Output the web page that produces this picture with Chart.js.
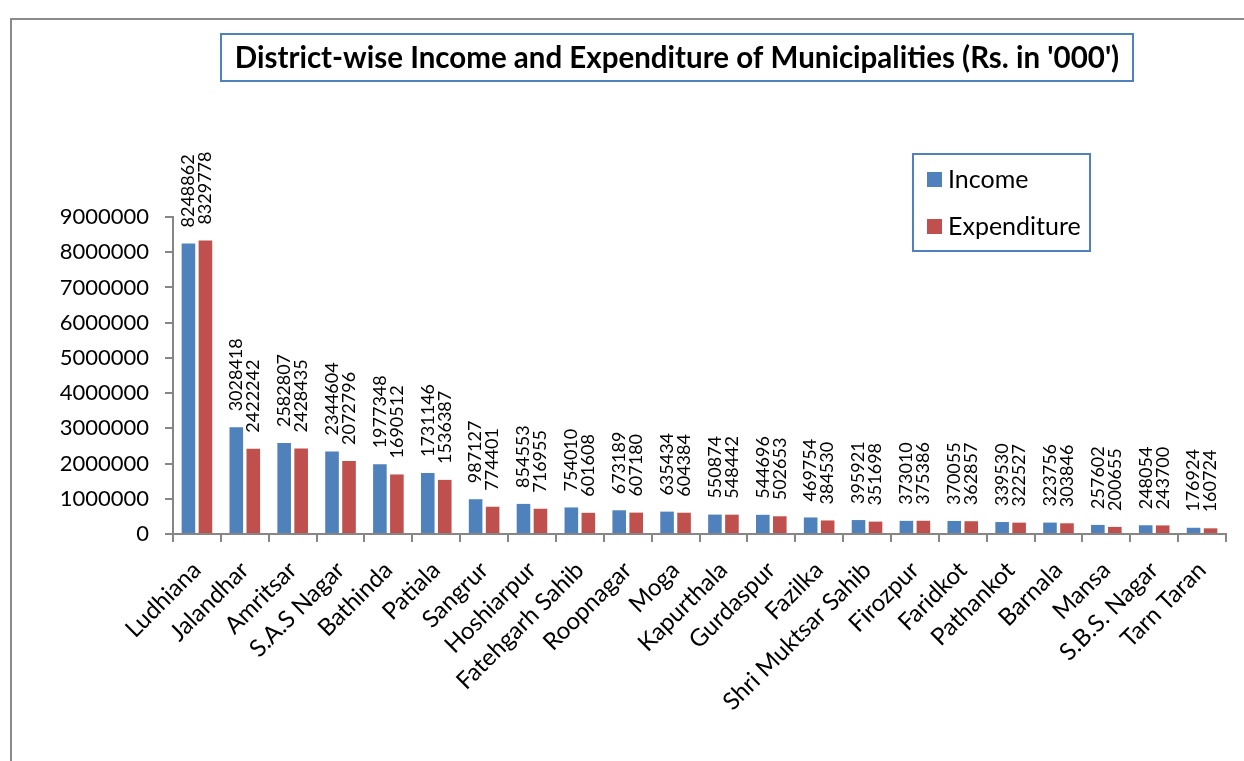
<!DOCTYPE html>
<html>
<head>
<meta charset="utf-8">
<script src="https://cdn.jsdelivr.net/npm/chart.js@4.4.0/dist/chart.umd.min.js"></script>
<style>
html,body{margin:0;padding:0;background:#fff;}
#wrap{width:1244px;height:761px;position:relative;}
</style>
</head>
<body>
<div id="wrap"><canvas id="c" width="1244" height="761"></canvas></div>
<script>
const chartTitle = "District-wise Income and Expenditure of Municipalities (Rs. in '000')";
const districts = ["Ludhiana","Jalandhar","Amritsar","S.A.S Nagar","Bathinda","Patiala","Sangrur","Hoshiarpur","Fatehgarh Sahib","Roopnagar","Moga","Kapurthala","Gurdaspur","Fazilka","Shri Muktsar Sahib","Firozpur","Faridkot","Pathankot","Barnala","Mansa","S.B.S. Nagar","Tarn Taran"];
const income = [8248862,3028418,2582807,2344604,1977348,1731146,987127,854553,754010,673189,635434,550874,544696,469754,395921,373010,370055,339530,323756,257602,248054,176924];
const expenditure = [8329778,2422242,2428435,2072796,1690512,1536387,774401,716955,601608,607180,604384,548442,502653,384530,351698,375386,362857,322527,303846,200655,243700,160724];
const seriesNames = ["Income","Expenditure"];
const yTicks = [0,1000000,2000000,3000000,4000000,5000000,6000000,7000000,8000000,9000000];

const FONT = "Lato, 'Open Sans', sans-serif";
const BLUE = "#4F81BD", RED = "#C0504D", BOXBLUE = "#4F81BD", AXIS = "#868686";

const decor = {
  id: 'decor',
  beforeDraw(chart) {
    const ctx = chart.ctx;
    ctx.save();
    ctx.fillStyle = '#fff';
    ctx.fillRect(0,0,chart.width,chart.height);
    ctx.strokeStyle = '#8a8a8a';
    ctx.lineWidth = 2;
    ctx.beginPath();
    ctx.moveTo(11, 762); ctx.lineTo(11, 19); ctx.lineTo(1245, 19);
    ctx.stroke();
    ctx.restore();
  },
  afterDraw(chart) {
    const ctx = chart.ctx;
    ctx.save();
    // title box
    ctx.strokeStyle = BOXBLUE; ctx.lineWidth = 2;
    ctx.strokeRect(221, 34, 912, 47);
    ctx.fillStyle = '#000';
    ctx.font = "bold 29.5px " + FONT;
    ctx.textAlign = 'center'; ctx.textBaseline = 'middle';
    ctx.fillText(chartTitle, 677, 58);
    // legend box
    ctx.strokeRect(913, 154, 177, 97);
    ctx.font = "25px " + FONT;
    ctx.textAlign = 'left';
    const ys = [180, 227];
    chart.data.datasets.forEach((ds, i) => {
      ctx.fillStyle = ds.backgroundColor;
      ctx.fillRect(927, ys[i]-8, 15, 15);
      ctx.fillStyle = '#000';
      ctx.fillText(ds.label, 948, ys[i]);
    });
    // data labels
    ctx.font = "18px " + FONT;
    ctx.fillStyle = '#000';
    ctx.textAlign = 'left'; ctx.textBaseline = 'middle';
    chart.data.datasets.forEach((ds, i) => {
      const meta = chart.getDatasetMeta(i);
      meta.data.forEach((bar, j) => {
        ctx.save();
        ctx.translate(bar.x, bar.y - 16);
        ctx.rotate(-Math.PI/2);
        ctx.fillText(String(ds.data[j]), 0, 0);
        ctx.restore();
      });
    });
    ctx.restore();
  }
};

new Chart(document.getElementById('c'), {
  type: 'bar',
  data: {
    labels: districts,
    datasets: [
      {label: seriesNames[0], data: income, backgroundColor: BLUE},
      {label: seriesNames[1], data: expenditure, backgroundColor: RED}
    ]
  },
  options: {
    responsive: false,
    animation: false,
    devicePixelRatio: 1,
    layout: {padding: {top: 217, right: 18, bottom: 0, left: 0}},
    plugins: {legend: {display: false}, title: {display: false}, tooltip: {enabled: false}},
    datasets: {bar: {categoryPercentage: 0.71, barPercentage: 0.8}},
    scales: {
      x: {
        grid: {display: true, drawOnChartArea: false, offset: true, color: AXIS, tickLength: 8, lineWidth: 2},
        border: {color: AXIS, width: 2},
        ticks: {color: '#000', font: {family: FONT, size: 24}, minRotation: 45, maxRotation: 45, autoSkip: false, padding: 14},
        afterFit(scale) { scale.height = 227; }
      },
      y: {
        min: 0, max: 9000000,
        afterBuildTicks(scale) { scale.ticks = yTicks.map(v => ({value: v})); },
        grid: {display: true, drawOnChartArea: false, color: AXIS, tickLength: 8, lineWidth: 2},
        border: {color: AXIS, width: 2},
        ticks: {color: '#000', font: {family: FONT, size: 22}, padding: 16, callback: v => String(v)},
        afterFit(scale) { scale.width = 173; }
      }
    }
  },
  plugins: [decor]
});
</script>
</body>
</html>
